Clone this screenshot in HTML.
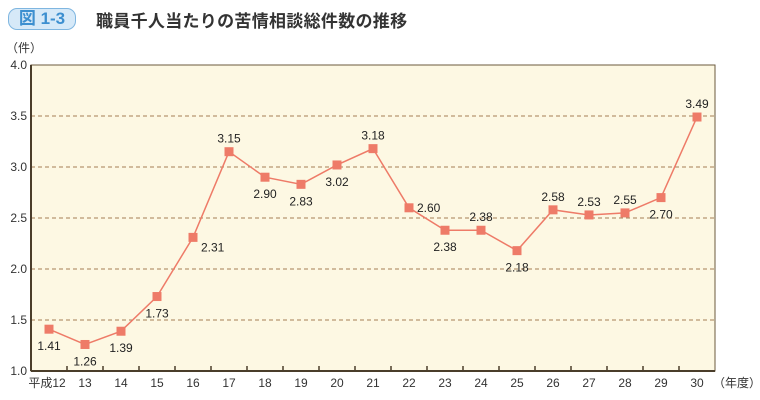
<!DOCTYPE html>
<html><head><meta charset="utf-8"><style>
body{margin:0;background:#fff;width:760px;height:400px;overflow:hidden;font-family:"Liberation Sans","Noto Sans CJK JP",sans-serif;}
#badge{position:absolute;left:8px;top:8px;width:66px;height:20px;border:1px solid #7fb6e0;border-radius:9px;background:#d6e9f8;color:#3c8fd0;font-size:17px;line-height:20px;text-align:center;font-weight:bold;}
#title{position:absolute;left:96px;top:7px;font-size:17px;font-weight:bold;color:#333;letter-spacing:0.3px;}
</style></head><body>
<div id="badge">図 1-3</div>
<div id="title">職員千人当たりの苦情相談総件数の推移</div>
<svg id="chart" width="760" height="400" style="position:absolute;left:0;top:0"></svg>
<script>
const categories=['平成12','13','14','15','16','17','18','19','20','21','22','23','24','25','26','27','28','29','30'];
const values=[1.41,1.26,1.39,1.73,2.31,3.15,2.90,2.83,3.02,3.18,2.60,2.38,2.38,2.18,2.58,2.53,2.55,2.70,3.49];
const yTicks=[1.0,1.5,2.0,2.5,3.0,3.5,4.0];
const labelPos=['b','b','b','b','r','a','b','b','b','a','r','b','a','b','a','a','a','b','a'];
const NS='http://www.w3.org/2000/svg';
const svg=document.getElementById('chart');
const L=31,R=715,T=65,B=371,yMin=1,yMax=4;
const bw=(R-L)/categories.length;
const x=i=>L+bw*(i+0.5);
const y=v=>B-(v-yMin)/(yMax-yMin)*(B-T);
function mk(tag,attrs){const e=document.createElementNS(NS,tag);for(const k in attrs)e.setAttribute(k,attrs[k]);svg.appendChild(e);return e;}
let bg=mk('rect',{x:L,y:T,width:R-L,height:B-T,fill:'#fdf8e3',stroke:'#6b5a3e','stroke-width':1});


yTicks.forEach(v=>{
  if(v>yMin&&v<yMax){const g=mk('line',{x1:L,x2:R,y1:y(v),y2:y(v),stroke:'#a57e56','stroke-dasharray':'4,3','stroke-width':1});
  
  }
  const t=mk('text',{x:L-4,y:y(v)+4,'text-anchor':'end','font-size':12,fill:'#333'});t.textContent=v.toFixed(1);
  
  
});
const ax=mk('line',{x1:L,x2:R,y1:B,y2:B,stroke:'#4a3d2a','stroke-width':2});


const ay=mk('line',{x1:L,x2:L,y1:T,y2:B,stroke:'#4a3d2a','stroke-width':2});


categories.forEach((c,i)=>{
  if(i>0){const tk=mk('line',{x1:L+bw*i,x2:L+bw*i,y1:B,y2:B-5,stroke:'#4a3d2a','stroke-width':1.5});
  
  }
  const t=mk('text',{x:x(i)+(i===0?-2:0),y:B+16,'text-anchor':'middle','font-size':12,fill:'#333'});t.textContent=c;
  
  
});
const yl=mk('text',{x:6,y:52,'font-size':12,fill:'#333'});yl.textContent='（件）';


const xl=mk('text',{x:713,y:B+16,'font-size':12,fill:'#333'});xl.textContent='（年度）';


const line=mk('polyline',{points:values.map((v,i)=>x(i)+','+y(v)).join(' '),fill:'none',stroke:'#ee7b68','stroke-width':1.5});


values.forEach((v,i)=>{
  const m=mk('rect',{x:x(i)-4.5,y:y(v)-4.5,width:9,height:9,fill:'#ee7b68'});
  
  
  const p=labelPos[i];let lx=x(i),ly=y(v)+21,anc='middle';
  if(p==='a'){ly=y(v)-9;}else if(p==='r'){lx=x(i)+8;anc='start';ly=y(v)+(i===4?14:4);}
  const t=mk('text',{x:lx,y:ly,'text-anchor':anc,'font-size':12,fill:'#222'});t.textContent=v.toFixed(2);
  
  
});
</script>
</body></html>
